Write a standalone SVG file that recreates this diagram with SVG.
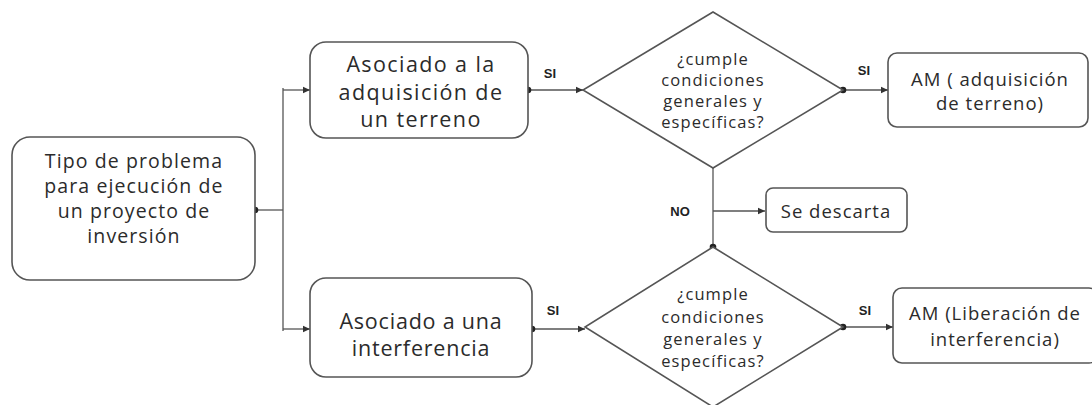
<svg xmlns="http://www.w3.org/2000/svg" width="1092" height="405" viewBox="0 0 1092 405">
<defs>
<marker id="arr" markerWidth="8" markerHeight="8" refX="7" refY="4" orient="auto" markerUnits="userSpaceOnUse">
<path d="M0,0.8 L7,4 L0,7.2 Z" fill="#333"/>
</marker>
<style>
.box{fill:#fff;stroke:#555;stroke-width:1.6}
.t{font-family:"Open Sans",Lato,sans-serif;fill:#2b2b2b;text-anchor:middle;dominant-baseline:central}
.lft{font-size:19.5px;letter-spacing:1.1px}
.big{font-size:21.5px;letter-spacing:1.4px}
.big2{font-size:21.5px;letter-spacing:0.8px}
.mid{font-size:18.5px;letter-spacing:1px}
.dia{font-size:16.5px;letter-spacing:1.1px}
.lbl{font-family:"Liberation Sans",Arial,sans-serif;font-weight:bold;font-size:13px;fill:#222;text-anchor:middle;dominant-baseline:central}
.ln{fill:none;stroke:#555;stroke-width:1.3}
.dot{fill:#222}
</style>
</defs>
<rect width="1092" height="405" fill="#fff"/>
<g id="connectors">
<path class="ln" d="M255,210 H283"/>
<path class="ln" d="M283,88 V331"/>
<path class="ln" d="M283,90 H310" marker-end="url(#arr)"/>
<path class="ln" d="M283,329 H310" marker-end="url(#arr)"/>
<path class="ln" d="M528,90 H583" marker-end="url(#arr)"/>
<path class="ln" d="M843,90 H888" marker-end="url(#arr)"/>
<path class="ln" d="M713,168 V247"/>
<path class="ln" d="M713,211 H765" marker-end="url(#arr)"/>
<path class="ln" d="M532,329 H585" marker-end="url(#arr)"/>
<path class="ln" d="M843,327 H893" marker-end="url(#arr)"/>
<circle class="dot" cx="255" cy="210" r="3.3"/>
<circle class="dot" cx="528" cy="90" r="3.3"/>
<circle class="dot" cx="843" cy="90" r="3.3"/>
<circle class="dot" cx="713" cy="247" r="3.3"/>
<circle class="dot" cx="532" cy="329" r="3.3"/>
<circle class="dot" cx="843" cy="327" r="3.3"/>
<text class="lbl" x="550" y="73">SI</text>
<text class="lbl" x="864" y="70">SI</text>
<text class="lbl" x="680" y="211">NO</text>
<text class="lbl" x="553" y="310">SI</text>
<text class="lbl" x="865" y="310">SI</text>
</g>
<g id="n-tipo">
<rect class="box" x="12" y="137" width="243" height="143" rx="18"/>
<text class="t lft" x="134" y="160">Tipo de problema</text>
<text class="t lft" x="134" y="185">para ejecución de</text>
<text class="t lft" x="134" y="210">un proyecto de</text>
<text class="t lft" x="134" y="235">inversión</text>
</g>
<g id="n-terreno">
<rect class="box" x="310" y="42" width="218" height="96" rx="16"/>
<text class="t big" x="421" y="63">Asociado a la</text>
<text class="t big" x="421" y="91">adquisición de</text>
<text class="t big" x="421" y="118">un terreno</text>
</g>
<g id="n-interf">
<rect class="box" x="310" y="278" width="222" height="99" rx="16"/>
<text class="t big2" x="421" y="320">Asociado a una</text>
<text class="t big2" x="421" y="347">interferencia</text>
</g>
<g id="d-top">
<polygon class="box" points="713,12 843,90 713,168 583,90"/>
<text class="t dia" x="713" y="58">¿cumple</text>
<text class="t dia" x="713" y="79">condiciones</text>
<text class="t dia" x="713" y="100">generales y</text>
<text class="t dia" x="713" y="121">específicas?</text>
</g>
<g id="d-bottom">
<polygon class="box" points="713,247 843,327 713,407 585,327"/>
<text class="t dia" x="713" y="293">¿cumple</text>
<text class="t dia" x="713" y="316">condiciones</text>
<text class="t dia" x="713" y="338">generales y</text>
<text class="t dia" x="713" y="360">específicas?</text>
</g>
<g id="n-am-terreno">
<rect class="box" x="888" y="53" width="200" height="74" rx="9"/>
<text class="t mid" x="990" y="78">AM ( adquisición</text>
<text class="t mid" x="990" y="102">de terreno)</text>
</g>
<g id="n-descarta">
<rect class="box" x="766" y="188" width="141" height="44" rx="7"/>
<text class="t mid" x="836" y="210">Se descarta</text>
</g>
<g id="n-am-interf">
<rect class="box" x="893" y="288" width="205" height="75" rx="9"/>
<text class="t mid" x="995" y="312">AM (Liberación de</text>
<text class="t mid" x="995" y="338">interferencia)</text>
</g>
</svg>
